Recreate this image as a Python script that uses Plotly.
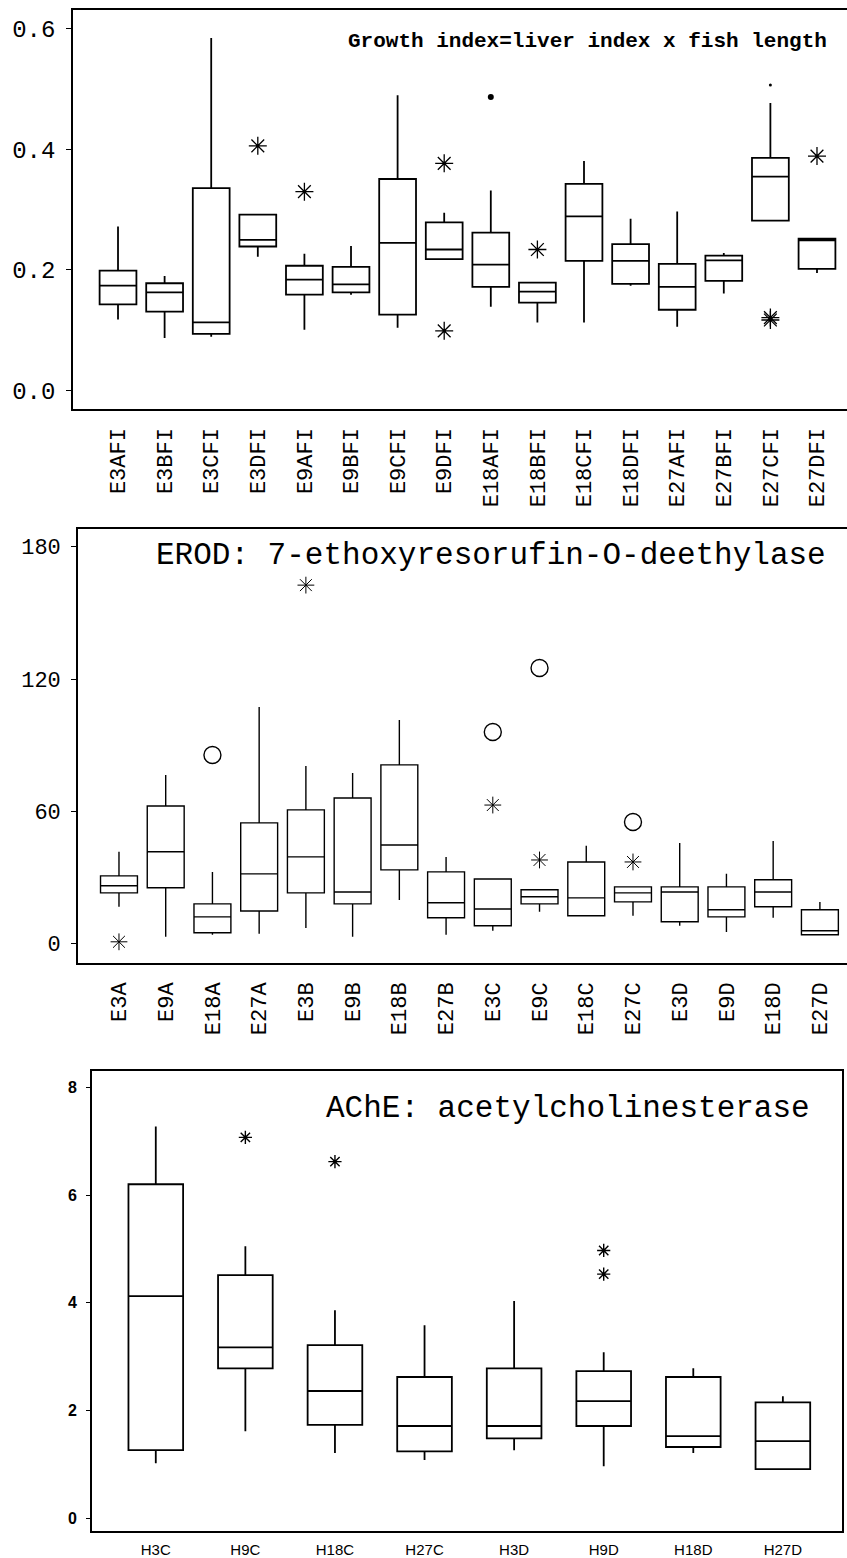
import plotly.graph_objects as go

# ---------------- Panel 1: Growth index ----------------
gi_cats = ["E3AFI", "E3BFI", "E3CFI", "E3DFI", "E9AFI", "E9BFI", "E9CFI", "E9DFI",
           "E18AFI", "E18BFI", "E18CFI", "E18DFI", "E27AFI", "E27BFI", "E27CFI", "E27DFI"]
gi_low = [0.118, 0.087, 0.089, 0.222, 0.101, 0.159, 0.104, 0.218,
          0.139, 0.113, 0.113, 0.174, 0.106, 0.161, 0.282, 0.195]
gi_q1 = [0.143, 0.131, 0.094, 0.239, 0.159, 0.163, 0.126, 0.218,
         0.172, 0.146, 0.215, 0.177, 0.134, 0.182, 0.282, 0.202]
gi_med = [0.174, 0.163, 0.113, 0.250, 0.184, 0.176, 0.245, 0.234,
          0.209, 0.164, 0.289, 0.215, 0.172, 0.216, 0.355, 0.249]
gi_q3 = [0.199, 0.178, 0.336, 0.292, 0.207, 0.205, 0.351, 0.279,
         0.262, 0.179, 0.343, 0.243, 0.210, 0.224, 0.386, 0.252]
gi_high = [0.272, 0.190, 0.585, 0.292, 0.227, 0.240, 0.490, 0.295,
           0.332, 0.179, 0.381, 0.285, 0.297, 0.228, 0.477, 0.252]
gi_star_x = ["E3DFI", "E9AFI", "E9DFI", "E9DFI", "E18BFI", "E27CFI", "E27CFI", "E27DFI"]
gi_star_y = [0.406, 0.330, 0.377, 0.099, 0.234, 0.121, 0.117, 0.389]
gi_dot_x = ["E18AFI", "E27CFI"]
gi_dot_y = [0.487, 0.507]
gi_ticks = [0.0, 0.2, 0.4, 0.6]
gi_ticktext = ["0.0", "0.2", "0.4", "0.6"]

# ---------------- Panel 2: EROD ----------------
er_cats = ["E3A", "E9A", "E18A", "E27A", "E3B", "E9B", "E18B", "E27B",
           "E3C", "E9C", "E18C", "E27C", "E3D", "E9D", "E18D", "E27D"]
er_low = [16.8, 3.2, 4.1, 4.5, 7.2, 3.2, 19.9, 4.1, 5.9, 14.5, 12.7, 12.7, 8.2, 5.4, 11.8, 4.1]
er_q1 = [23.1, 25.4, 5.0, 14.9, 23.1, 18.1, 33.5, 11.8, 8.2, 18.1, 12.7, 19.0, 10.0, 12.2, 16.8, 4.1]
er_med = [26.3, 41.7, 12.2, 31.7, 39.4, 23.5, 44.8, 18.6, 15.8, 21.3, 20.8, 23.1, 23.5, 15.4, 23.5, 5.9]
er_q3 = [30.8, 62.5, 18.1, 54.8, 60.7, 66.1, 81.1, 32.6, 29.4, 24.5, 37.1, 25.8, 25.8, 25.8, 29.0, 15.4]
er_high = [41.7, 76.5, 32.6, 107.3, 80.6, 77.4, 101.4, 39.4, 29.4, 24.5, 44.4, 25.8, 45.7, 31.7, 46.6, 19.0]
er_star_x = ["E3A", "E3B", "E3C", "E9C", "E27C"]
er_star_y = [0.9, 162.6, 62.9, 38.0, 37.1]
er_circ_x = ["E18A", "E3C", "E9C", "E27C"]
er_circ_y = [85.6, 96.0, 125.0, 55.2]
er_ticks = [0, 60, 120, 180]

# ---------------- Panel 3: AChE ----------------
ac_cats = ["H3C", "H9C", "H18C", "H27C", "H3D", "H9D", "H18D", "H27D"]
ac_low = [1.02, 1.61, 1.21, 1.08, 1.26, 0.96, 1.21, 0.91]
ac_q1 = [1.26, 2.78, 1.73, 1.24, 1.48, 1.71, 1.32, 0.91]
ac_med = [4.12, 3.17, 2.36, 1.71, 1.71, 2.17, 1.52, 1.43]
ac_q3 = [6.20, 4.51, 3.21, 2.62, 2.78, 2.73, 2.62, 2.15]
ac_high = [7.27, 5.05, 3.86, 3.58, 4.03, 3.08, 2.78, 2.26]
ac_star_x = ["H9C", "H18C", "H9D", "H9D"]
ac_star_y = [7.07, 6.62, 4.97, 4.53]
ac_ticks = [0, 2, 4, 6, 8]

W, H = 847, 1558
MONO = "Liberation Mono, Courier New, monospace"
SANS = "Liberation Sans, Arial, sans-serif"
BLK = "black"


def px_x(p):
    return p / W


def px_y(p):
    return 1 - p / H


fig = go.Figure()


def add_panel(cats, low, q1, med, q3, high, xa, ya, width, lw=1.6):
    fig.add_trace(go.Box(
        x=cats, lowerfence=low, q1=q1, median=med, q3=q3, upperfence=high,
        width=width, whiskerwidth=0, boxpoints=False,
        fillcolor="rgba(255,255,255,0)", line=dict(color=BLK, width=lw),
        xaxis=xa, yaxis=ya, showlegend=False, hoverinfo="skip"))


def add_points(xs, ys, symbol, size, xa, ya, lw=1.3):
    fig.add_trace(go.Scatter(
        x=xs, y=ys, mode="markers", xaxis=xa, yaxis=ya, showlegend=False,
        marker=dict(symbol=symbol, size=size, color=BLK,
                    line=dict(color=BLK, width=lw))))


# panel 1
add_panel(gi_cats, gi_low, gi_q1, gi_med, gi_q3, gi_high, "x", "y", 0.79, 1.8)
add_points(gi_star_x, gi_star_y, "asterisk-open", 15, "x", "y")
add_points(gi_dot_x[:1], gi_dot_y[:1], "circle", 6, "x", "y", 0)
add_points(gi_dot_x[1:], gi_dot_y[1:], "circle", 3, "x", "y", 0)

# panel 2
add_panel(er_cats, er_low, er_q1, er_med, er_q3, er_high, "x2", "y2", 0.79, 1.4)
add_points(er_star_x, er_star_y, "asterisk-open", 14, "x2", "y2", 1.0)
add_points(er_circ_x, er_circ_y, "circle-open", 17, "x2", "y2", 1.4)

# panel 3
add_panel(ac_cats, ac_low, ac_q1, ac_med, ac_q3, ac_high, "x3", "y3", 0.61, 1.8)
add_points(ac_star_x, ac_star_y, "asterisk-open", 11, "x3", "y3", 1.4)

axis_line = dict(showline=True, linecolor=BLK, linewidth=1.6, showgrid=False, zeroline=False)

fig.update_layout(
    width=W, height=H, margin=dict(l=0, r=0, t=0, b=0),
    paper_bgcolor="white", plot_bgcolor="white",
    xaxis=dict(domain=[px_x(73), 1.0], type="category", range=[-0.966, 15.644],
               mirror=True, ticks="", tickangle=-90, ticklabelstandoff=8,
               tickfont=dict(family=MONO, size=22, color=BLK),
               anchor="y", **axis_line),
    yaxis=dict(domain=[px_y(410), px_y(10)], range=[-0.0315, 0.6315],
               tickvals=gi_ticks, ticktext=gi_ticktext, ticks="outside", ticklen=5,
               tickcolor=BLK, ticklabelstandoff=6,
               tickfont=dict(family=MONO, size=24, color=BLK), anchor="x", **axis_line),
    xaxis2=dict(domain=[px_x(78), 1.0], type="category", range=[-0.877, 15.58],
                mirror=True, ticks="", tickangle=-90, ticklabelstandoff=9,
                tickfont=dict(family=MONO, size=22, color=BLK),
                anchor="y2", **axis_line),
    yaxis2=dict(domain=[px_y(964), px_y(530)], range=[-8.6, 187.9],
                tickvals=er_ticks, ticks="outside", ticklen=5, tickcolor=BLK,
                ticklabelstandoff=6,
                tickfont=dict(family=MONO, size=22, color=BLK), anchor="x2", **axis_line),
    xaxis3=dict(domain=[px_x(92), px_x(842)], type="category", range=[-0.712, 7.66],
                mirror=True, ticks="", ticklabelstandoff=4,
                tickfont=dict(family=SANS, size=15, color=BLK),
                anchor="y3", **axis_line),
    yaxis3=dict(domain=[px_y(1533), px_y(1072)], range=[-0.241, 8.31],
                tickvals=ac_ticks, ticks="outside", ticklen=4, tickcolor=BLK,
                mirror=True, ticklabelstandoff=6,
                tickfont=dict(family=SANS, size=16, color=BLK, weight="bold"),
                anchor="x3", **axis_line),
    annotations=[
        dict(text="<b>Growth index=liver index x fish length</b>", xref="paper", yref="paper",
             x=px_x(829), y=px_y(42), xanchor="right", yanchor="middle", showarrow=False,
             font=dict(family=MONO, size=21, color=BLK)),
        dict(text="EROD: 7-ethoxyresorufin-O-deethylase", xref="paper", yref="paper",
             x=px_x(828), y=px_y(556), xanchor="right", yanchor="middle", showarrow=False,
             font=dict(family=MONO, size=31, color=BLK)),
        dict(text="AChE: acetylcholinesterase", xref="paper", yref="paper",
             x=px_x(812), y=px_y(1110), xanchor="right", yanchor="middle", showarrow=False,
             font=dict(family=MONO, size=31, color=BLK)),
    ],
)

fig.write_html("out.html")
